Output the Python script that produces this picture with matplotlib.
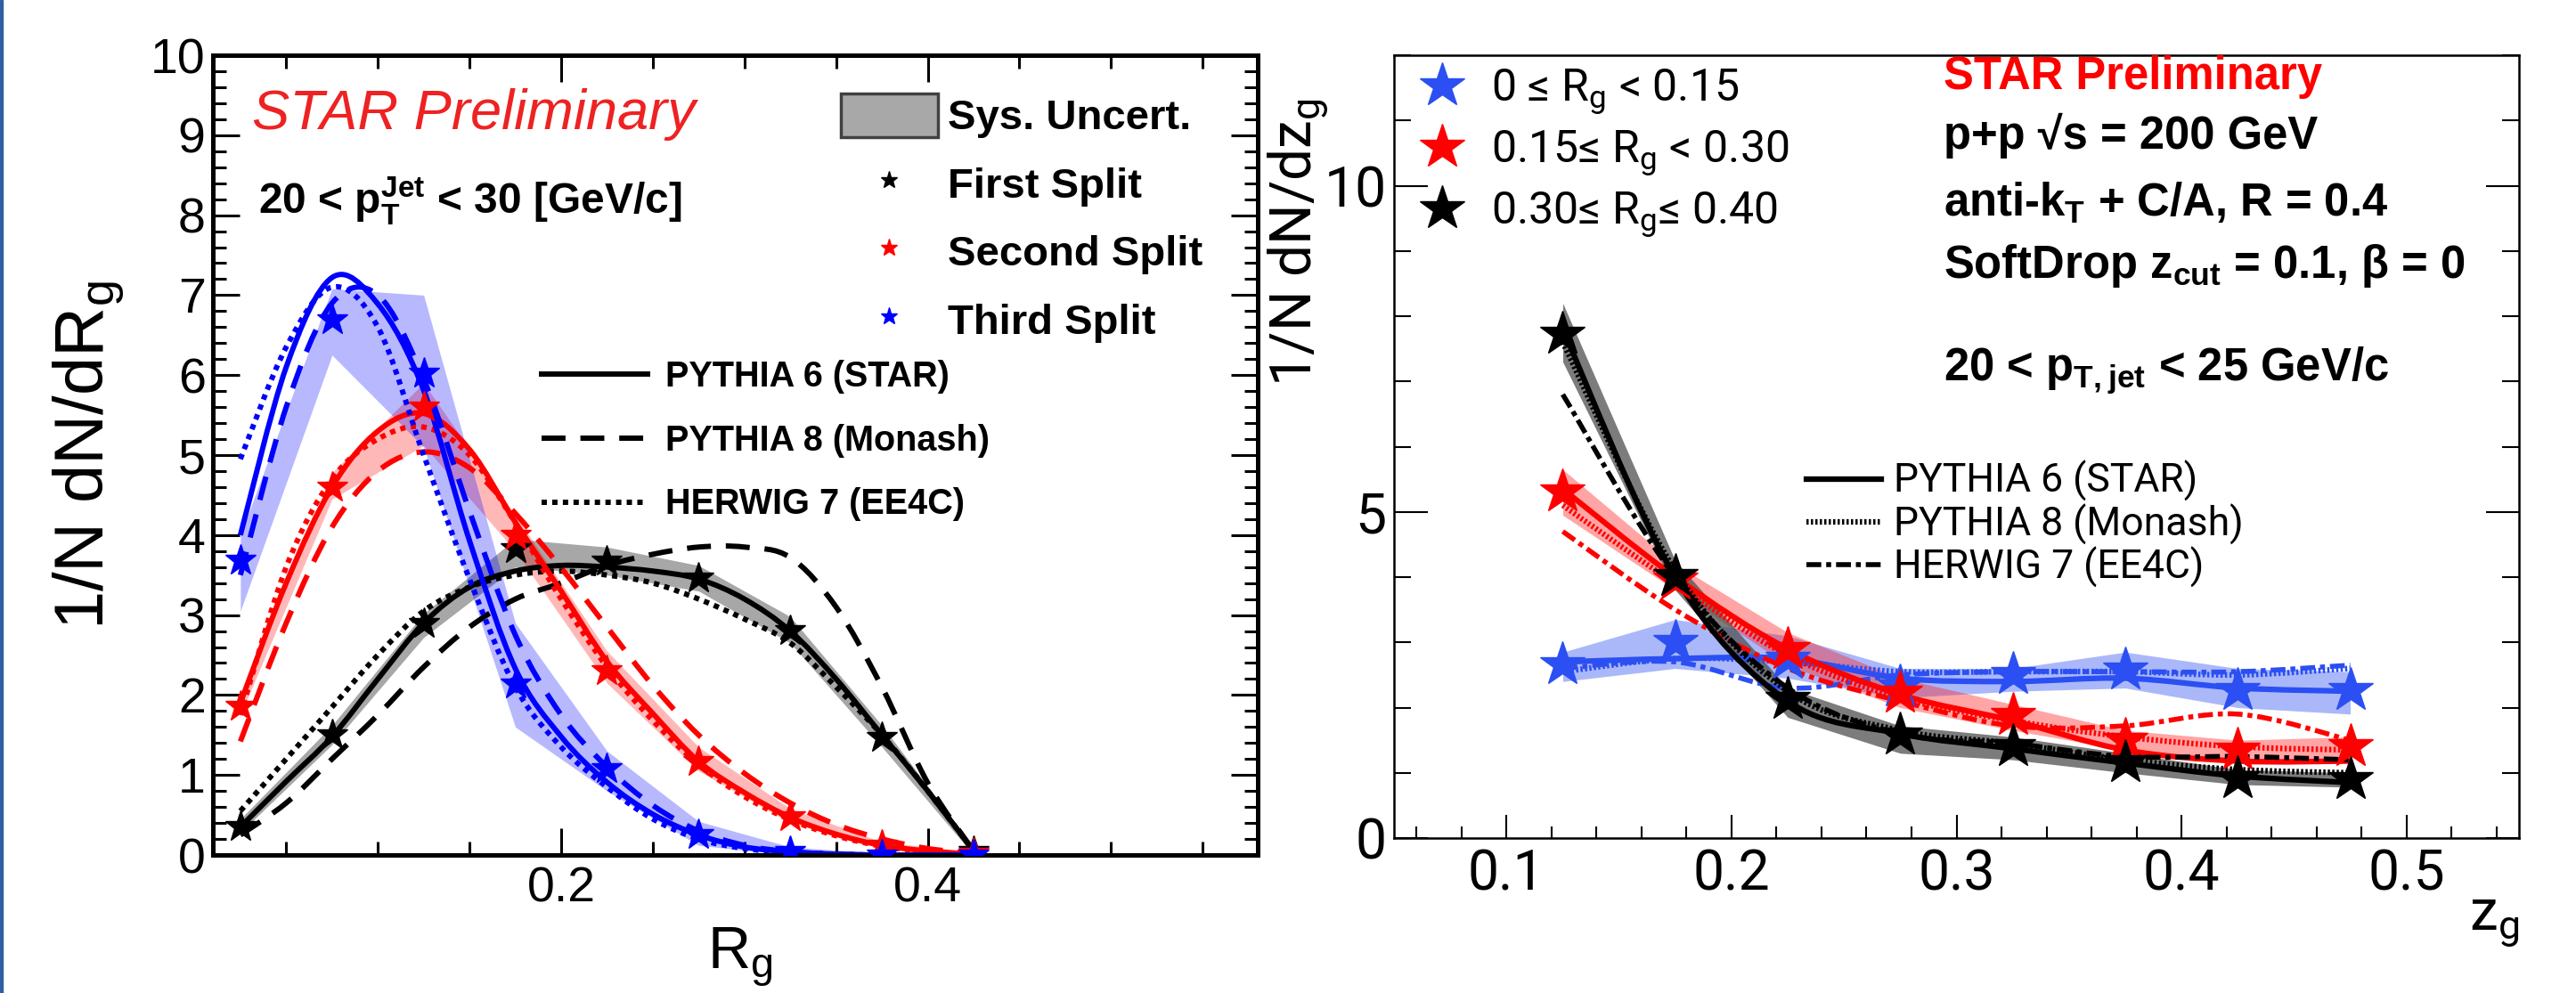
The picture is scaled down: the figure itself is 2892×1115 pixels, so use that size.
import matplotlib
matplotlib.use('Agg')
import matplotlib.pyplot as plt
from matplotlib.lines import Line2D
from matplotlib.patches import Patch, Rectangle, PathPatch
from matplotlib.path import Path
from matplotlib.ticker import MultipleLocator

plt.rcParams['mathtext.default'] = 'regular'
plt.rcParams['font.family'] = ['Liberation Sans', 'DejaVu Sans']

# ---------------- left panel: R_g of first / second / third split ----------------
rg_bins = [0.025, 0.075, 0.125, 0.175, 0.225, 0.275, 0.325, 0.375, 0.425]
first_data = [0.36, 1.50, 2.89, 3.83, 3.68, 3.46, 2.81, 1.47, 0.04]
second_data = [1.86, 4.60, 5.60, 4.00, 2.31, 1.17, 0.48, 0.12, 0.02]
third_data = [3.69, 6.69, 6.03, 2.14, 1.08, 0.26, 0.04, 0.0, 0.0]

first_lo = [0.28, 1.38, 2.72, 3.60, 3.50, 3.30, 2.65, 1.35, 0.00]
first_hi = [0.45, 1.62, 3.02, 3.95, 3.85, 3.62, 2.98, 1.62, 0.10]
second_lo = [1.75, 4.45, 5.12, 3.80, 2.15, 1.05, 0.40, 0.08, 0.00]
second_hi = [1.98, 4.78, 5.90, 4.25, 2.55, 1.35, 0.58, 0.16, 0.04]
third_lo = [3.05, 6.25, 5.10, 1.60, 0.80, 0.12, 0.00, 0.00, 0.00]
third_hi = [4.00, 7.08, 7.00, 2.90, 1.30, 0.42, 0.10, 0.02, 0.00]

# model curves read at finer R_g steps
rg_curve = [0.025, 0.05, 0.075, 0.1, 0.125, 0.15, 0.175, 0.2, 0.225,
            0.25, 0.275, 0.3, 0.325, 0.35, 0.375, 0.4, 0.425]
first_p6 = [0.35, 0.92, 1.48, 2.2, 2.9, 3.35, 3.55, 3.62, 3.6, 3.55, 3.45, 3.2, 2.8, 2.2, 1.5, 0.8, 0.05]
first_p8 = [0.25, 0.65, 1.2, 1.75, 2.35, 2.85, 3.2, 3.4, 3.62, 3.76, 3.85, 3.85, 3.72, 3.1, 2.1, 0.9, 0.05]
first_h7 = [0.55, 1.2, 1.85, 2.5, 3.05, 3.35, 3.5, 3.55, 3.5, 3.4, 3.2, 2.95, 2.65, 2.1, 1.5, 0.8, 0.05]
second_p6 = [1.9, 3.4, 4.6, 5.3, 5.52, 5.07, 4.16, 3.3, 2.42, 1.77, 1.17, 0.78, 0.47, 0.26, 0.12, 0.05, 0.01]
second_p8 = [1.42, 2.9, 4.1, 4.8, 5.04, 4.84, 4.27, 3.59, 2.85, 2.12, 1.5, 1.02, 0.65, 0.38, 0.2, 0.08, 0.02]
second_h7 = [1.75, 3.6, 4.7, 5.2, 5.35, 5.0, 4.15, 3.2, 2.35, 1.68, 1.13, 0.73, 0.44, 0.24, 0.11, 0.04, 0.01]
third_p6 = [4.0, 6.1, 7.22, 6.89, 5.81, 3.93, 2.33, 1.48, 0.91, 0.51, 0.25, 0.1, 0.04, 0.01, 0.0, 0.0, 0.0]
third_p8 = [3.5, 5.6, 6.9, 7.0, 5.95, 4.3, 2.75, 1.75, 1.1, 0.62, 0.3, 0.12, 0.04, 0.01, 0.0, 0.0, 0.0]
third_h7 = [4.95, 6.35, 7.1, 6.6, 5.0, 3.45, 2.1, 1.35, 0.85, 0.45, 0.2, 0.08, 0.03, 0.01, 0.0, 0.0, 0.0]

# ---------------- right panel: z_g in R_g bins ----------------
zg_bins = [0.125, 0.175, 0.225, 0.275, 0.325, 0.375, 0.425, 0.475]
low_data = [2.66, 3.00, 2.75, 2.32, 2.51, 2.58, 2.27, 2.27]
mid_data = [5.31, 3.96, 2.90, 2.22, 1.88, 1.50, 1.35, 1.40]
high_data = [7.73, 4.01, 2.13, 1.59, 1.40, 1.16, 0.92, 0.90]

low_lo = [2.40, 2.60, 2.45, 2.15, 2.25, 2.30, 2.00, 1.90]
low_hi = [2.85, 3.35, 3.10, 2.60, 2.60, 2.85, 2.60, 2.55]
mid_lo = [4.95, 3.80, 2.65, 2.00, 1.65, 1.35, 1.20, 1.20]
mid_hi = [5.65, 4.20, 3.15, 2.45, 2.05, 1.65, 1.50, 1.55]
high_lo = [7.30, 3.80, 1.85, 1.30, 1.20, 1.00, 0.82, 0.78]
high_hi = [8.20, 4.25, 2.30, 1.72, 1.55, 1.30, 1.05, 1.00]

low_p6 = [2.70, 2.75, 2.75, 2.45, 2.40, 2.45, 2.30, 2.25]
low_p8 = [2.55, 2.75, 2.70, 2.55, 2.55, 2.55, 2.50, 2.60]
low_h7 = [2.60, 2.70, 2.30, 2.50, 2.55, 2.55, 2.55, 2.65]
mid_p6 = [5.35, 4.00, 2.90, 2.20, 1.80, 1.35, 1.18, 1.18]
mid_p8 = [5.10, 3.90, 2.80, 2.15, 1.80, 1.55, 1.40, 1.35]
mid_h7 = [4.70, 3.50, 2.60, 2.10, 1.72, 1.72, 1.90, 1.50]
high_p6 = [7.80, 4.00, 2.10, 1.60, 1.37, 1.15, 0.95, 0.85]
high_p8 = [7.60, 4.10, 2.25, 1.65, 1.45, 1.20, 1.05, 1.00]
high_h7 = [6.80, 4.00, 2.30, 1.60, 1.45, 1.25, 1.25, 1.20]


def smooth_curve(ax, x, y, **kw):
    # draw a curve through the points as bezier segments (like ROOT's "C" option)
    verts = [(x[0], y[0])]
    codes = [Path.MOVETO]
    n = len(x)
    for i in range(n - 1):
        xa, ya = (x[i - 1], y[i - 1]) if i > 0 else (x[i], y[i])
        xb, yb = (x[i + 2], y[i + 2]) if i + 2 < n else (x[i + 1], y[i + 1])
        verts.append((x[i] + (x[i + 1] - xa) / 6, y[i] + (y[i + 1] - ya) / 6))
        verts.append((x[i + 1] - (xb - x[i]) / 6, y[i + 1] - (yb - y[i]) / 6))
        verts.append((x[i + 1], y[i + 1]))
        codes += [Path.CURVE4] * 3
    ax.add_patch(PathPatch(Path(verts, codes), fill=False, joinstyle='round', **kw))


fig = plt.figure(figsize=(28.92, 11.15), dpi=100)
fig.patches.append(Rectangle((0, 0), 0.0012, 1, transform=fig.transFigure, color='#2f5f9f'))

# ======== left ========
axL = fig.add_axes([0.08264, 0.13901, 0.40560, 0.80538])
dash_l = (0, (4.5, 2.8))
dot_l = (0, (1.0, 1.0))
left_sets = [
    ('#000000', '#8a8a8a', 0.75, first_data, first_lo, first_hi, first_p6, first_p8, first_h7),
    ('#ff0000', '#ff0000', 0.28, second_data, second_lo, second_hi, second_p6, second_p8, second_h7),
    ('#0000ff', '#0000ff', 0.28, third_data, third_lo, third_hi, third_p6, third_p8, third_h7),
]
for col, bcol, alpha, data, lo, hi, p6, p8, h7 in left_sets:
    axL.fill_between(rg_bins, lo, hi, color=bcol, alpha=alpha, lw=0, zorder=1)
for col, bcol, alpha, data, lo, hi, p6, p8, h7 in left_sets:
    smooth_curve(axL, rg_curve, p6, edgecolor=col, lw=4.3, zorder=2)
    smooth_curve(axL, rg_curve, p8, edgecolor=col, lw=4.3, ls=dash_l, zorder=2)
    smooth_curve(axL, rg_curve, h7, edgecolor=col, lw=4.3, ls=dot_l, zorder=2)
for col, bcol, alpha, data, lo, hi, p6, p8, h7 in left_sets:
    axL.plot(rg_bins, data, ls='none', marker='*', ms=26, color=col, zorder=3)

axL.set_xlim(0.01, 0.58)
axL.set_ylim(0, 10)
axL.xaxis.set_major_locator(MultipleLocator(0.2))
axL.xaxis.set_minor_locator(MultipleLocator(0.05))
axL.yaxis.set_major_locator(MultipleLocator(1))
axL.yaxis.set_minor_locator(MultipleLocator(0.2))
axL.tick_params(which='both', direction='in', top=True, right=True, labelsize=40, width=2.2)
axL.tick_params(which='major', length=21.6)
axL.tick_params(which='minor', length=10.8)
axL.tick_params(axis='x', pad=9)
axL.tick_params(axis='y', pad=6)
for sp in axL.spines.values():
    sp.set_linewidth(3.6)

axL.set_ylabel('1/N dN/dR$_{g}$', fontsize=56, va='center')
axL.yaxis.set_label_coords(-0.1185, 0.5)
axL.set_xlabel('R$_{g}$', fontsize=48)
axL.xaxis.set_label_coords(0.505, -0.088)

axL.text(0.0375, 0.9076, 'STAR Preliminary', color='#ee2222', style='italic', size=45.5,
         va='baseline', transform=axL.transAxes)
axL.text(0.0435, 0.8018, '20 < p$_{T}^{Jet}$ < 30 [GeV/c]', weight='bold', size=34.5,
         va='baseline', transform=axL.transAxes)

mk_handles = [Patch(facecolor='#a8a8a8', edgecolor='#404040', lw=2.5),
              Line2D([], [], ls='none', marker='*', ms=14, color='#000000'),
              Line2D([], [], ls='none', marker='*', ms=14, color='#ff0000'),
              Line2D([], [], ls='none', marker='*', ms=14, color='#0000ff')]
leg1 = axL.legend(mk_handles, ['Sys. Uncert.', 'First Split', 'Second Split', 'Third Split'],
                  loc='upper left', bbox_to_anchor=(0.601, 0.952), frameon=False, borderpad=0,
                  borderaxespad=0, handlelength=2.3, handleheight=1.2, handletextpad=0.25,
                  labelspacing=0.56, prop=dict(weight='bold', size=34))
axL.add_artist(leg1)
mc_handles = [Line2D([], [], color='k', lw=4.3),
              Line2D([], [], color='k', lw=4.3, ls=dash_l),
              Line2D([], [], color='k', lw=4.3, ls=dot_l)]
axL.legend(mc_handles, ['PYTHIA 6 (STAR)', 'PYTHIA 8 (Monash)', 'HERWIG 7 (EE4C)'],
           loc='upper left', bbox_to_anchor=(0.3146, 0.619), frameon=False, borderpad=0,
           borderaxespad=0, handlelength=3.0, handletextpad=0.5, labelspacing=0.85,
           prop=dict(weight='bold', size=28.5))

# ======== right ========
axR = fig.add_axes([0.54115, 0.15605, 0.43672, 0.78834])
dot_r = (0, (0.4, 0.4))
dashdot_r = (0, (3, 1, 1, 1))
blue_r = '#2b4ff2'
right_sets = [
    (blue_r, blue_r, 0.4, low_data, low_lo, low_hi, low_p6, low_p8, low_h7),
    ('#ff0000', '#ff2020', 0.4, mid_data, mid_lo, mid_hi, mid_p6, mid_p8, mid_h7),
    ('#000000', '#505050', 0.75, high_data, high_lo, high_hi, high_p6, high_p8, high_h7),
]
for col, bcol, alpha, data, lo, hi, p6, p8, h7 in right_sets:
    axR.fill_between(zg_bins, lo, hi, color=bcol, alpha=alpha, lw=0, zorder=1)
for col, bcol, alpha, data, lo, hi, p6, p8, h7 in right_sets:
    smooth_curve(axR, zg_bins, p6, edgecolor=col, lw=4.5, zorder=2)
    smooth_curve(axR, zg_bins, p8, edgecolor=col, lw=4.5, ls=dot_r, zorder=2)
    smooth_curve(axR, zg_bins, h7, edgecolor=col, lw=4.0, ls=dashdot_r, zorder=2)
for col, bcol, alpha, data, lo, hi, p6, p8, h7 in right_sets:
    axR.plot(zg_bins, data, ls='none', marker='*', ms=38, color=col, zorder=3)

axR.set_xlim(0.05, 0.55)
axR.set_ylim(0, 12)
axR.xaxis.set_major_locator(MultipleLocator(0.1))
axR.xaxis.set_minor_locator(MultipleLocator(0.02))
axR.yaxis.set_major_locator(MultipleLocator(5))
axR.yaxis.set_minor_locator(MultipleLocator(1))
axR.tick_params(which='both', direction='in', labelsize=45, width=1.5, labelfontfamily='Roboto')
axR.tick_params(axis='x', which='major', length=19, pad=8)
axR.tick_params(axis='x', which='minor', length=9.4)
axR.tick_params(axis='y', which='both', left=True, right=True, pad=6)
axR.tick_params(axis='y', which='major', length=27)
axR.tick_params(axis='y', which='minor', length=14)
for sp in axR.spines.values():
    sp.set_linewidth(1.8)

axR.set_ylabel('1/N dN/dz$_{g}$', fontsize=46, family='Roboto', ha='right', va='center')
axR.yaxis.set_label_coords(-0.085, 0.945)
axR.set_xlabel('z$_{g}$', fontsize=46, family='Roboto', ha='right')
axR.xaxis.set_label_coords(1.0, -0.07)

info = [('STAR Preliminary', 0.957, '#ff0000'),
        ('p+p \u221as = 200 GeV', 0.8806, 'k'),
        ('anti-k$_{T}$ + C/A, R = 0.4', 0.795, 'k'),
        ('SoftDrop z$_{cut}$ = 0.1, \u03b2 = 0', 0.7156, 'k'),
        ('20 < p$_{T, jet}$ < 25 GeV/c', 0.585, 'k')]
for txt, yy, col in info:
    axR.text(0.4885, yy, txt, color=col, weight='bold', size=36.5, va='baseline',
             transform=axR.transAxes)

rg_handles = [Line2D([], [], ls='none', marker='*', ms=38, color=c) for c in (blue_r, '#ff0000', '#000000')]
leg3 = axR.legend(rg_handles, ['0 \u2264 R$_{g}$ < 0.15', '0.15\u2264 R$_{g}$ < 0.30', '0.30\u2264 R$_{g}$\u2264 0.40'],
                  loc='upper left', bbox_to_anchor=(0.023, 0.985), frameon=False, borderpad=0,
                  borderaxespad=0, handlelength=1.0, handletextpad=0.6, labelspacing=0.28,
                  prop=dict(family='Roboto', size=36))
axR.add_artist(leg3)
mcr_handles = [Line2D([], [], color='k', lw=4.5),
               Line2D([], [], color='k', lw=4.5, ls=dot_r),
               Line2D([], [], color='k', lw=4.0, ls=dashdot_r)]
axR.legend(mcr_handles, ['PYTHIA 6 (STAR)', 'PYTHIA 8 (Monash)', 'HERWIG 7 (EE4C)'],
           loc='upper left', bbox_to_anchor=(0.3666, 0.482), frameon=False, borderpad=0,
           borderaxespad=0, handlelength=1.9, handletextpad=0.3, labelspacing=0.05,
           prop=dict(family='Roboto', size=32))

fig.savefig('out.png', dpi=100, facecolor='white')
